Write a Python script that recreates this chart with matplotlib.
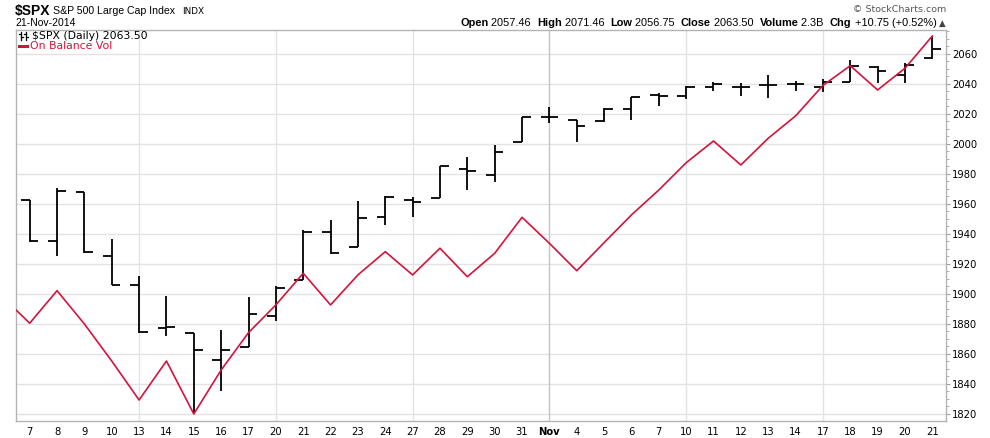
import matplotlib
matplotlib.use('Agg')
import matplotlib.pyplot as plt
from matplotlib.ticker import MultipleLocator
from matplotlib.lines import Line2D

# ---------------- data ----------------
day_labels = ['7', '8', '9', '10', '13', '14', '15', '16', '17', '20', '21', '22', '23', '24',
              '27', '28', '29', '30', '31', 'Nov', '4', '5', '6', '7', '10', '11', '12', '13',
              '14', '17', '18', '19', '20', '21']
opens = [1962.36, 1935.55, 1967.68, 1925.63, 1905.65, 1877.11, 1874.18, 1855.95, 1864.91,
         1885.62, 1909.38, 1941.29, 1931.02, 1951.59, 1962.97, 1964.14, 1983.29, 1979.49,
         2001.20, 2018.21, 2015.81, 2015.29, 2023.33, 2032.36, 2032.01, 2038.20, 2037.75,
         2039.21, 2039.74, 2038.29, 2041.48, 2051.16, 2045.87, 2057.46]
highs = [1962.36, 1970.36, 1967.68, 1936.98, 1912.09, 1898.71, 1874.18, 1876.01, 1898.16,
         1905.03, 1942.45, 1949.31, 1961.95, 1965.27, 1964.64, 1985.05, 1991.40, 1999.40,
         2018.19, 2024.46, 2015.98, 2023.77, 2031.61, 2034.26, 2038.70, 2041.28, 2040.33,
         2046.18, 2042.22, 2043.07, 2056.08, 2052.14, 2053.84, 2071.46]
lows = [1934.87, 1925.25, 1927.56, 1906.05, 1874.14, 1871.79, 1820.66, 1835.02, 1864.91,
        1882.30, 1909.38, 1926.83, 1931.02, 1946.27, 1951.37, 1964.14, 1969.04, 1974.75,
        2001.20, 2013.68, 2001.01, 2014.42, 2015.86, 2025.07, 2030.17, 2035.28, 2031.95,
        2030.44, 2035.20, 2034.46, 2041.48, 2040.37, 2040.49, 2056.75]
closes = [1935.10, 1968.89, 1928.21, 1906.13, 1874.74, 1877.70, 1862.49, 1862.76, 1886.76,
          1904.01, 1941.28, 1927.11, 1950.82, 1964.58, 1961.63, 1985.05, 1982.30, 1994.65,
          2018.05, 2017.81, 2012.10, 2023.57, 2031.21, 2031.92, 2038.26, 2039.68, 2038.25,
          2039.33, 2039.82, 2041.32, 2051.80, 2048.72, 2052.75, 2063.50]
# On Balance Volume (overlay, own hidden scale); first value is the prior day (6 Oct)
obv_prev_day = 1898.2
obv = [1880.5, 1902.2, 1880.0, 1855.3, 1829.3, 1855.3, 1820.0, 1849.3, 1874.2, 1892.7,
       1913.8, 1892.7, 1912.7, 1928.2, 1912.7, 1930.5, 1911.5, 1927.1, 1951.1, 1933.8,
       1915.5, 1934.2, 1952.7, 1969.3, 1987.5, 2002.0, 1986.0, 2003.8, 2018.7, 2039.0,
       2052.2, 2036.0, 2050.5, 2072.0]
y_ticks = [1820, 1840, 1860, 1880, 1900, 1920, 1940, 1960, 1980, 2000, 2020, 2040, 2060]
week_starts = [4, 9, 14, 19, 24, 29]
month_start = 19

# ---------------- figure ----------------
W, H = 990, 438
fig = plt.figure(figsize=(W / 100, H / 100), dpi=100)
L, R, T, B = 16, 946, 30, 421
ax = fig.add_axes([L / W, 1 - B / H, (R - L) / W, (B - T) / H])

n = len(day_labels)
idx = list(range(n))
ax.set_xlim(-0.5, n - 0.5)
ylo, yhi = 1815.3, 2076.0
ax.set_ylim(ylo, yhi)

# grid
for yv in y_ticks:
    ax.axhline(yv, color='#e3e3e3', lw=1.0, zorder=0)
for w in week_starts:
    ax.axvline(w, color='#c4c4c4' if w == month_start else '#e3e3e3', lw=1.0, zorder=0)

# OHLC bars
tw = 0.32
ax.vlines(idx, lows, highs, color='black', lw=1.3, zorder=3)
ax.hlines(opens, [i - tw for i in idx], idx, color='black', lw=1.3, zorder=3)
ax.hlines(closes, idx, [i + tw for i in idx], color='black', lw=1.3, zorder=3)

# OBV on twin axis (hidden scale)
ax2 = ax.twinx()
ax2.set_ylim(ylo, yhi)
ax2.plot([-1] + idx, [obv_prev_day] + obv, color='#d2143c', lw=1.2, zorder=4)
ax2.set_yticks([])
for s in ax2.spines.values():
    s.set_visible(False)

# axes styling
for s in ax.spines.values():
    s.set_color('#b4b4b4')
    s.set_linewidth(1.0)
ax.yaxis.tick_right()
ax.set_yticks(y_ticks)
ax.set_yticklabels([str(v) for v in y_ticks])
ax.yaxis.set_minor_locator(MultipleLocator(5))
ax.tick_params(axis='y', which='major', length=3, width=0.8, color='#a0a0a0', pad=1.5,
               labelsize=7.2, labelcolor='black')
ax.tick_params(axis='y', which='minor', length=1.8, width=0.6, color='#a0a0a0')
ax.set_xticks(idx)
ax.set_xticklabels(day_labels)
ax.tick_params(axis='x', length=0, pad=4, labelsize=7.2, labelcolor='black')
for lab in ax.get_xticklabels():
    lab.set_family('DejaVu Sans')
    if lab.get_text() == 'Nov':
        lab.set_fontweight('bold')
for lab in ax.get_yticklabels():
    lab.set_family('DejaVu Sans')

# ---------------- header texts ----------------
def ft(x, y, s, **kw):
    return fig.text(x / W, 1 - y / H, s, **kw)

ft(15, 11.5, '$SPX', fontsize=10, fontweight='bold', family='Liberation Sans', va='center')
ft(53, 11.5, 'S&P 500 Large Cap Index', fontsize=7.6, family='Liberation Sans', va='center')
ft(182, 12, 'INDX', fontsize=6.4, family='DejaVu Sans', va='center')
ft(15, 23, '21-Nov-2014', fontsize=7.5, family='Liberation Sans', va='center')
ft(946, 10, '\u00a9 StockCharts.com', fontsize=6.8, family='DejaVu Sans', color='#555555',
   va='center', ha='right')

# right header: pieces measured and laid out right-aligned at x=946
pieces = [('Open', True), (' 2057.46  ', False), ('High', True), (' 2071.46  ', False),
          ('Low', True), (' 2056.75  ', False), ('Close', True), (' 2063.50  ', False),
          ('Volume', True), (' 2.3B  ', False), ('Chg', True), (' +10.75 (+0.52%) ', False),
          ('\u25b2', False)]
fig.canvas.draw()
rend = fig.canvas.get_renderer()
objs = []
widths = []
for s, b in pieces:
    t = ft(0, 23, s, fontsize=7.95, family='Liberation Sans',
           fontweight='bold' if b else 'normal', va='center', ha='left',
           color='#444444' if s == '\u25b2' else 'black')
    if s == '\u25b2':
        t.set_fontsize(6.2)
        t.set_family('DejaVu Sans')
    objs.append(t)
    widths.append(t.get_window_extent(rend).width)
x = 946 - sum(widths)
for t, w in zip(objs, widths):
    t.set_x(x / W)
    x += w

# legend inside plot
ft(32, 36, '$SPX (Daily) 2063.50', fontsize=7.85, family='DejaVu Sans', va='center')
ft(30, 46, 'On Balance Vol', fontsize=7.85, family='DejaVu Sans', va='center', color='#d2143c')
# small OHLC glyph
def fl(xs, ys, **kw):
    fig.add_artist(Line2D([v / W for v in xs], [1 - v / H for v in ys], **kw))
for x0 in (21, 26):
    fl([x0, x0], [32, 40], color='black', lw=0.9)
    fl([x0 - 2, x0], [34, 34], color='black', lw=0.9)
    fl([x0, x0 + 2], [37, 37], color='black', lw=0.9)
fl([19, 27], [46, 46], color='#d2143c', lw=2.2)

fig.savefig('out.png', dpi=100)
